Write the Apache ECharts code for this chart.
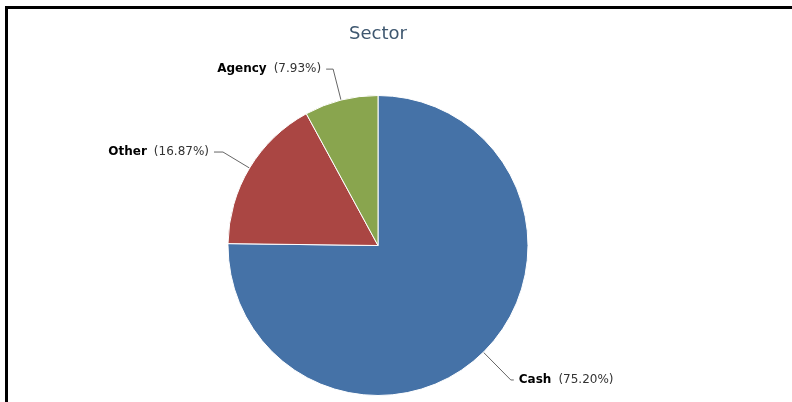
<!DOCTYPE html>
<html>
<head>
<meta charset="utf-8">
<script src="https://cdn.jsdelivr.net/npm/echarts@6/dist/echarts.min.js"></script>
<style>
html,body{margin:0;padding:0;background:#fff;}
#main{width:792px;height:402px;}
</style>
</head>
<body>
<div id="main"></div>
<script>
const titleText = 'Sector';
const categories = ['Cash', 'Other', 'Agency'];
const values = [75.20, 16.87, 7.93];
const colors = ['#4572A7', '#AA4643', '#89A54E'];
const lineLengths = [39, 31, 32];
const lineLengths2 = [3, 9, 7];

const chart = echarts.init(document.getElementById('main'), null, {renderer: 'canvas'});
const data = categories.map((c, i) => ({
  name: c,
  value: values[i],
  itemStyle: {color: colors[i]},
  labelLine: {length: lineLengths[i], length2: lineLengths2[i]}
}));

chart.setOption({
  animation: false,
  backgroundColor: '#fff',
  title: {
    text: titleText,
    left: 344,
    top: 20,
    textStyle: {fontFamily: 'DejaVu Sans', fontSize: 18, fontWeight: 'normal', color: '#3E576F'}
  },
  graphic: [{
    type: 'polyline',
    shape: {points: [[6.5, 402], [6.5, 7.5], [792, 7.5]]},
    style: {stroke: '#000', lineWidth: 3, fill: null},
    silent: true
  }],
  series: [{
    type: 'pie',
    center: [378, 245.5],
    radius: [0, 150],
    startAngle: 90,
    clockwise: true,
    avoidLabelOverlap: false,
    data: data,
    itemStyle: {borderColor: '#fff', borderWidth: 1},
    label: {
      show: true,
      position: 'outside',
      alignTo: 'none',
      distanceToLabelLine: 5,
      fontFamily: 'DejaVu Sans',
      fontSize: 12,
      formatter: p => '{b|' + p.name + '}{c|(' + p.value.toFixed(2) + '%)}',
      rich: {
        b: {fontFamily: 'DejaVu Sans', fontSize: 12, fontWeight: 'bold', color: '#000', padding: [0, 7, 0, 0]},
        c: {fontFamily: 'DejaVu Sans', fontSize: 12, color: '#333'}
      }
    },
    labelLine: {show: true, smooth: false, lineStyle: {color: '#666', width: 1}},
    emphasis: {disabled: true}
  }]
});
</script>
</body>
</html>
